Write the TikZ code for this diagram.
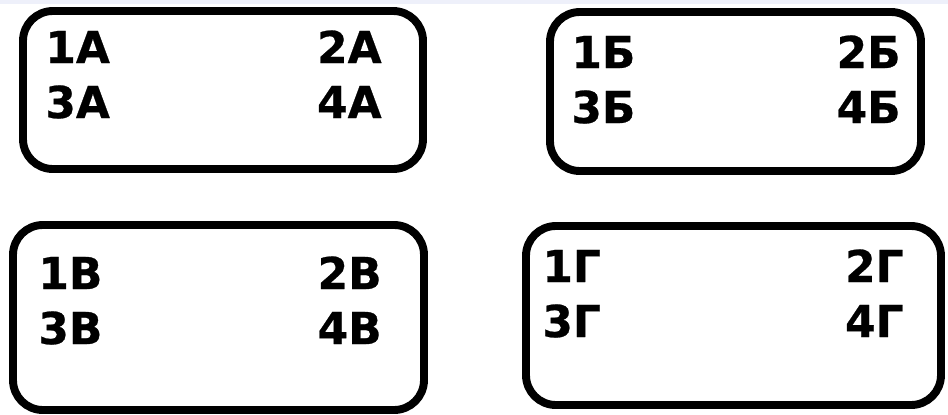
\documentclass[tikz,border=0pt]{standalone}
\usepackage{fontspec}
\setmainfont{DejaVu Sans}
\newfontfamily\boxfont[FakeBold=0.6]{DejaVu Sans Bold}
\usetikzlibrary{positioning}
\definecolor{haze}{HTML}{EEF0FA}
\tikzset{
  card/.style={draw=black, line width=4.5pt, rounded corners=17pt, inner sep=0pt},
  lbl/.style={font=\boxfont\fontsize{25}{25}\selectfont, inner sep=0pt},
}

\begin{document}
\begin{tikzpicture}[x=0.02cm, y=-0.02cm]
    \fill[white] (0,0) rectangle (948,414);
    \useasboundingbox (0,0) rectangle (948,414);
    \fill[haze] (0,0) rectangle (948,4);
    \foreach \k/\c/\cx/\cy/\w/\h/\xl/\xr/\yb in {a/А/223/90/400/158/45/382/63,
                                              b/Б/735.5/91.5/371/159/571/901/68,
                                              v/В/218.5/317.5/411/185/38/382/289,
                                              g/Г/733.5/315.5/415/179/542/904/282}
      { \node[card, minimum width=\w*0.02cm, minimum height=\h*0.02cm] (box-\k) at (\cx,\cy) {};
        \node[lbl, anchor=base west] (\k1) at (\xl,\yb) {1\c};
        \node[lbl, anchor=base east] (\k2) at (\xr,\yb) {2\c};
        \node[lbl, anchor=base west] (\k3) at (\xl,\yb+55) {3\c};
        \node[lbl, anchor=base east] (\k4) at (\xr,\yb+55) {4\c}; }
  \end{tikzpicture}
\end{document}
